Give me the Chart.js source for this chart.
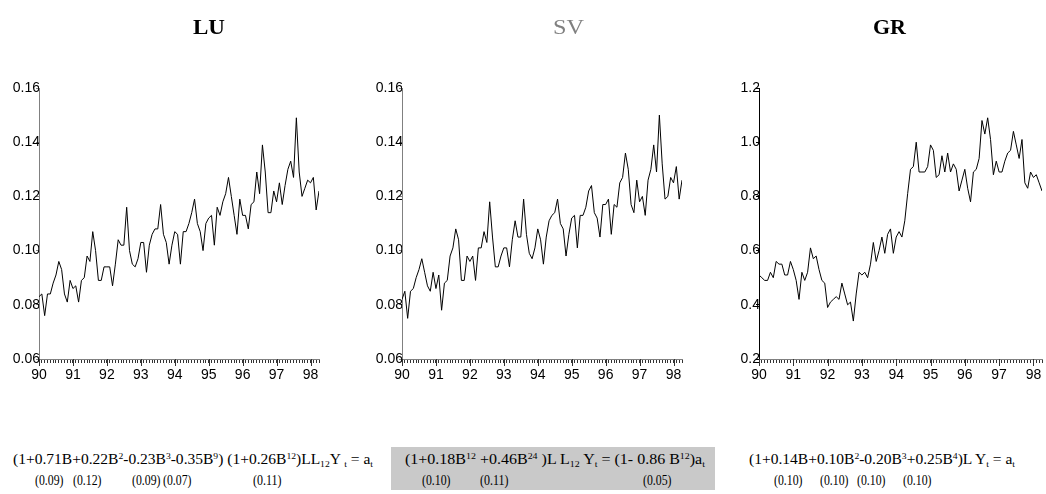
<!DOCTYPE html>
<html>
<head>
<meta charset="utf-8">
<script src="https://cdn.jsdelivr.net/npm/chart.js@4.4.1/dist/chart.umd.min.js"></script>
<style>
  html, body { margin: 0; padding: 0; background: #fff; }
  #wrap { position: relative; width: 1046px; height: 494px; overflow: hidden; background: #fff; }
  canvas { position: absolute; top: 0; }
  .t { position: absolute; white-space: nowrap; font-family: "Liberation Serif", "Times New Roman", serif; transform-origin: 0 0; }
  .title { font-size: 20px; line-height: 20px; }
  .f { font-size: 14px; line-height: 15px; color: #000; }
  .f sup, .f sub { font-size: 0.62em; line-height: 0; position: relative; vertical-align: baseline; }
  .f sup { top: -0.55em; }
  .f sub { top: 0.3em; }
  #box { position: absolute; left: 391px; top: 447px; width: 324px; height: 43px; background: #c9c9c9; }
</style>
</head>
<body>
<div id="wrap">
  <canvas id="c1" width="330" height="400" style="left:0px"></canvas>
  <canvas id="c2" width="330" height="400" style="left:363px"></canvas>
  <canvas id="c3" width="326" height="400" style="left:720px"></canvas>

  <div class="t title" data-w="32" style="left:193px; top:17px; font-weight:bold; color:#000">LU</div>
  <div class="t title" data-w="31" style="left:553px; top:17px; color:#808080">SV</div>
  <div class="t title" data-w="33" style="left:873px; top:17px; font-weight:bold; color:#000">GR</div>

  <div id="box"></div>

  <div class="t f" data-w="360" style="left:13px; top:452px">(1+0.71B+0.22B<sup>2</sup>-0.23B<sup>3</sup>-0.35B<sup>9</sup>) (1+0.26B<sup>12</sup>)LL<sub>12</sub>Y <sub>t</sub> = a<sub>t</sub></div>
  <div class="t f" data-w="28.5" style="left:35px; top:473px">(0.09)</div>
  <div class="t f" data-w="28.5" style="left:73px; top:473px">(0.12)</div>
  <div class="t f" data-w="28.5" style="left:132px; top:473px">(0.09)</div>
  <div class="t f" data-w="28.5" style="left:163px; top:473px">(0.07)</div>
  <div class="t f" data-w="28.5" style="left:253px; top:473px">(0.11)</div>

  <div class="t f" data-w="300" style="left:405px; top:452px">(1+0.18B<sup>12</sup> +0.46B<sup>24</sup> )L L<sub>12</sub> Y<sub>t</sub> = (1- 0.86 B<sup>12</sup>)a<sub>t</sub></div>
  <div class="t f" data-w="28.5" style="left:422px; top:473px">(0.10)</div>
  <div class="t f" data-w="28.5" style="left:480px; top:473px">(0.11)</div>
  <div class="t f" data-w="28.5" style="left:643px; top:473px">(0.05)</div>

  <div class="t f" data-w="266" style="left:749px; top:452px">(1+0.14B+0.10B<sup>2</sup>-0.20B<sup>3</sup>+0.25B<sup>4</sup>)L Y<sub>t</sub> = a<sub>t</sub></div>
  <div class="t f" data-w="28.5" style="left:774px; top:473px">(0.10)</div>
  <div class="t f" data-w="28.5" style="left:820px; top:473px">(0.10)</div>
  <div class="t f" data-w="28.5" style="left:857px; top:473px">(0.10)</div>
  <div class="t f" data-w="28.5" style="left:903px; top:473px">(0.10)</div>
</div>

<script>
// ---- data (monthly, 1990:01 onward) ----
const yearLabels = ['90', '91', '92', '93', '94', '95', '96', '97', '98'];

const luValues = [
  0.083, 0.084, 0.076, 0.084, 0.084, 0.088, 0.091, 0.096, 0.093, 0.084,
  0.081, 0.089, 0.086, 0.087, 0.081, 0.089, 0.090, 0.098, 0.096, 0.107,
  0.100, 0.089, 0.089, 0.094, 0.094, 0.094, 0.087, 0.095, 0.104, 0.102,
  0.102, 0.116, 0.100, 0.095, 0.094, 0.097, 0.103, 0.103, 0.092, 0.102,
  0.106, 0.108, 0.108, 0.117, 0.106, 0.103, 0.095, 0.102, 0.107, 0.106,
  0.095, 0.107, 0.107, 0.110, 0.114, 0.119, 0.110, 0.107, 0.100, 0.110,
  0.112, 0.113, 0.102, 0.116, 0.113, 0.118, 0.121, 0.127, 0.120, 0.113,
  0.106, 0.119, 0.113, 0.113, 0.108, 0.117, 0.118, 0.129, 0.121, 0.139,
  0.129, 0.114, 0.114, 0.122, 0.118, 0.125, 0.117, 0.124, 0.130, 0.133,
  0.127, 0.149, 0.129, 0.120, 0.123, 0.126, 0.125, 0.127, 0.115, 0.122
];

const svValues = [
  0.082, 0.085, 0.075, 0.085, 0.086, 0.090, 0.093, 0.097, 0.092, 0.087,
  0.085, 0.092, 0.086, 0.091, 0.078, 0.088, 0.089, 0.098, 0.101, 0.108,
  0.104, 0.089, 0.089, 0.098, 0.096, 0.098, 0.089, 0.101, 0.101, 0.107,
  0.103, 0.118, 0.105, 0.094, 0.094, 0.098, 0.101, 0.101, 0.094, 0.104,
  0.111, 0.105, 0.105, 0.119, 0.106, 0.099, 0.097, 0.101, 0.108, 0.104,
  0.095, 0.105, 0.111, 0.113, 0.114, 0.119, 0.110, 0.108, 0.098, 0.106,
  0.112, 0.113, 0.101, 0.113, 0.113, 0.116, 0.122, 0.124, 0.114, 0.112,
  0.105, 0.117, 0.117, 0.119, 0.106, 0.117, 0.116, 0.125, 0.127, 0.136,
  0.130, 0.117, 0.114, 0.126, 0.118, 0.120, 0.113, 0.126, 0.130, 0.139,
  0.129, 0.150, 0.132, 0.119, 0.120, 0.127, 0.125, 0.131, 0.119, 0.126
];

const grValues = [
  0.51, 0.50, 0.49, 0.49, 0.52, 0.50, 0.56, 0.55, 0.55, 0.51,
  0.51, 0.56, 0.53, 0.49, 0.42, 0.52, 0.49, 0.52, 0.61, 0.57,
  0.58, 0.53, 0.49, 0.48, 0.39, 0.41, 0.42, 0.43, 0.42, 0.48,
  0.44, 0.40, 0.41, 0.34, 0.44, 0.52, 0.51, 0.52, 0.50, 0.55,
  0.63, 0.56, 0.60, 0.65, 0.59, 0.66, 0.68, 0.59, 0.65, 0.67,
  0.65, 0.71, 0.81, 0.90, 0.91, 1.00, 0.89, 0.89, 0.89, 0.91,
  0.99, 0.97, 0.87, 0.88, 0.95, 0.89, 0.96, 0.89, 0.92, 0.90,
  0.82, 0.86, 0.90, 0.83, 0.78, 0.89, 0.90, 0.94, 1.08, 1.03,
  1.09, 1.01, 0.88, 0.93, 0.89, 0.89, 0.93, 0.96, 0.97, 1.04,
  0.99, 0.94, 1.01, 0.85, 0.83, 0.89, 0.87, 0.88, 0.85, 0.82
];

const luTicks = { min: 0.06, max: 0.16, step: 0.02, digits: 2 };
const svTicks = { min: 0.06, max: 0.16, step: 0.02, digits: 2 };
const grTicks = { min: 0.2, max: 1.2, step: 0.2, digits: 1 };

// ---- chart setup ----
Chart.defaults.font.family = '"Liberation Sans", Arial, sans-serif';
Chart.defaults.font.size = 14;
Chart.defaults.color = '#000';

const yearTickPlugin = {
  id: 'yearTicks',
  afterDraw(chart) {
    const s = chart.scales.x;
    const ctx = chart.ctx;
    const b = chart.chartArea.bottom;
    ctx.save();
    ctx.strokeStyle = '#333';
    ctx.lineWidth = 1;
    yearLabels.forEach((_, k) => {
      const x = Math.round(s.getPixelForValue(k * 12)) + 0.5;
      ctx.beginPath();
      ctx.moveTo(x, b);
      ctx.lineTo(x, b + 7);
      ctx.stroke();
    });
    ctx.restore();
  }
};

function makeChart(id, values, yt, yAxisColor, rightPad) {
  const pts = values.map((v, i) => ({ x: i, y: v }));
  return new Chart(document.getElementById(id), {
    type: 'line',
    data: { datasets: [{ data: pts, borderColor: '#000', borderWidth: 1, pointRadius: 0, tension: 0, fill: false }] },
    options: {
      responsive: false,
      animation: false,
      devicePixelRatio: 1,
      events: [],
      layout: { padding: { top: 88, right: rightPad, bottom: 0, left: 0 } },
      plugins: { legend: { display: false }, tooltip: { enabled: false }, title: { display: false } },
      scales: {
        x: {
          type: 'linear',
          min: 0,
          max: values.length - 1,
          afterFit: (s) => { s.height = 41; },
          border: { color: '#808080', width: 1 },
          grid: { drawOnChartArea: false, drawTicks: true, tickLength: 4, tickColor: '#333' },
          ticks: {
            stepSize: 1,
            autoSkip: false,
            maxRotation: 0,
            padding: 4,
            callback: (v) => (v % 12 === 0 ? yearLabels[v / 12] : '')
          }
        },
        y: {
          type: 'linear',
          min: yt.min,
          max: yt.max,
          afterFit: (s) => { s.width = 39; },
          border: { color: yAxisColor, width: 1 },
          grid: { drawOnChartArea: false, drawTicks: true, tickLength: 3, tickColor: yAxisColor },
          ticks: {
            stepSize: yt.step,
            padding: -4,
            callback: (v) => Number(v).toFixed(yt.digits)
          }
        }
      }
    },
    plugins: [yearTickPlugin]
  });
}

makeChart('c1', luValues, luTicks, '#808080', 11);
makeChart('c2', svValues, svTicks, '#808080', 11);
makeChart('c3', grValues, grTicks, '#000000', 2);

// fit text widths to the reference layout
document.querySelectorAll('.t[data-w]').forEach((el) => {
  const target = parseFloat(el.getAttribute('data-w'));
  const w = el.getBoundingClientRect().width;
  if (w > 0) el.style.transform = 'scaleX(' + (target / w) + ')';
});
</script>
</body>
</html>
